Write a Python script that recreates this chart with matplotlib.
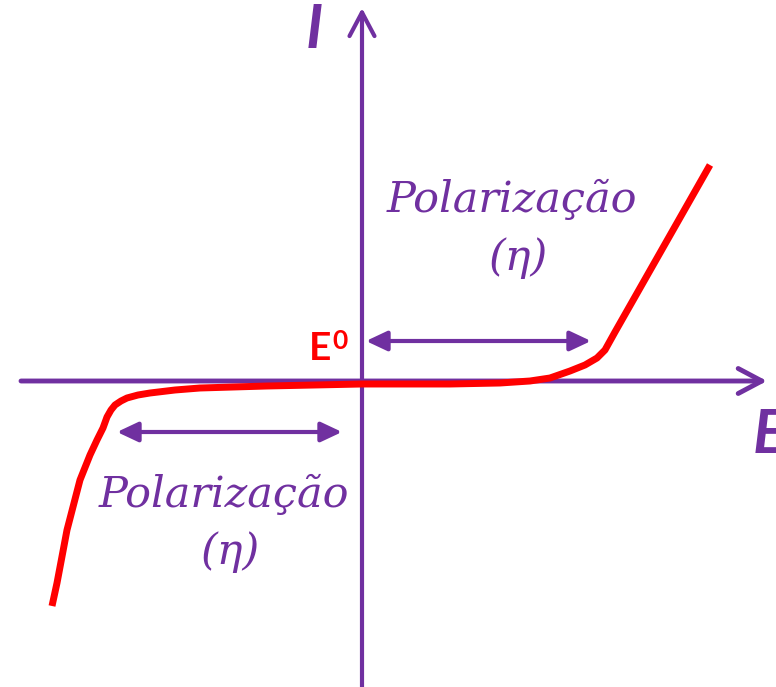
import matplotlib
matplotlib.use("Agg")
import matplotlib.pyplot as plt

# curva I x E (unidades arbitrarias, origem em E0)
E_curva = [-310, -305, -295, -282, -272, -265, -259, -255, -251, -247, -241, -235, -224,
           -212, -187, -162, -95, 0, 88, 138, 168, 188, 208, 223, 235, 243, 253, 348]
I_curva = [-225, -202, -149, -99, -74, -59, -47, -36, -29, -24, -20, -17, -14,
           -12, -9, -7, -5, -3, -3, -2, 0, 3, 10, 16, 23, 31, 49, 216]

# faixas de polarizacao (inicio, fim, altura)
pol_catodica = (-245, -20, -51)
pol_anodica = (4, 229, 40)

roxo = '#7030A0'
vermelho = '#FF0000'

fig = plt.figure(figsize=(7.76, 6.87), dpi=100)
ax = fig.add_axes([0, 0, 1, 1])
ax.set_xlim(-362, 414)
ax.set_ylim(-306, 381)
ax.axis('off')

# eixos
ax.annotate('', xy=(405, 0), xytext=(-341, 0),
            arrowprops=dict(arrowstyle='->,head_length=0.85,head_width=0.45',
                            color=roxo, lw=3.5, mutation_scale=20,
                            shrinkA=0, shrinkB=0))
ax.annotate('', xy=(0, 373), xytext=(0, -306),
            arrowprops=dict(arrowstyle='->,head_length=0.85,head_width=0.45',
                            color=roxo, lw=3, mutation_scale=20,
                            shrinkA=0, shrinkB=0))

# curva
ax.plot(E_curva, I_curva, color=vermelho, lw=5, solid_capstyle='butt',
        solid_joinstyle='round', zorder=3)

# setas de polarizacao
for ini, fim, y in [pol_catodica, pol_anodica]:
    ax.annotate('', xy=(fim, y), xytext=(ini, y),
                arrowprops=dict(arrowstyle='<|-|>,head_length=0.85,head_width=0.4',
                                color=roxo, lw=3, mutation_scale=15,
                                shrinkA=0, shrinkB=0))

fonte = dict(family='DejaVu Serif', style='italic', color=roxo, fontsize=31)
ax.text(150, 169, 'Polarização', ha='center', va='baseline', **fonte)
ax.text(156, 123, '(η)', ha='center', va='center', **fonte)
ax.text(-138, -126, 'Polarização', ha='center', va='baseline', **fonte)
ax.text(-132, -171, '(η)', ha='center', va='center', **fonte)

ax.text(-48, 351, 'I', ha='center', va='center', color=roxo, fontsize=44,
        fontweight='bold', style='italic', family='Lato')
ax.text(391, -54, 'E', ha='left', va='center', color=roxo, fontsize=44,
        fontweight='bold', style='italic', family='Lato')

ax.text(-42, 33, 'E', ha='center', va='center', color=vermelho, fontsize=28,
        fontweight='bold', family='Lato')
ax.text(-22, 40, '0', ha='center', va='center', color=vermelho, fontsize=19,
        fontweight='bold', family='Lato')

fig.savefig('out.png', dpi=100)
